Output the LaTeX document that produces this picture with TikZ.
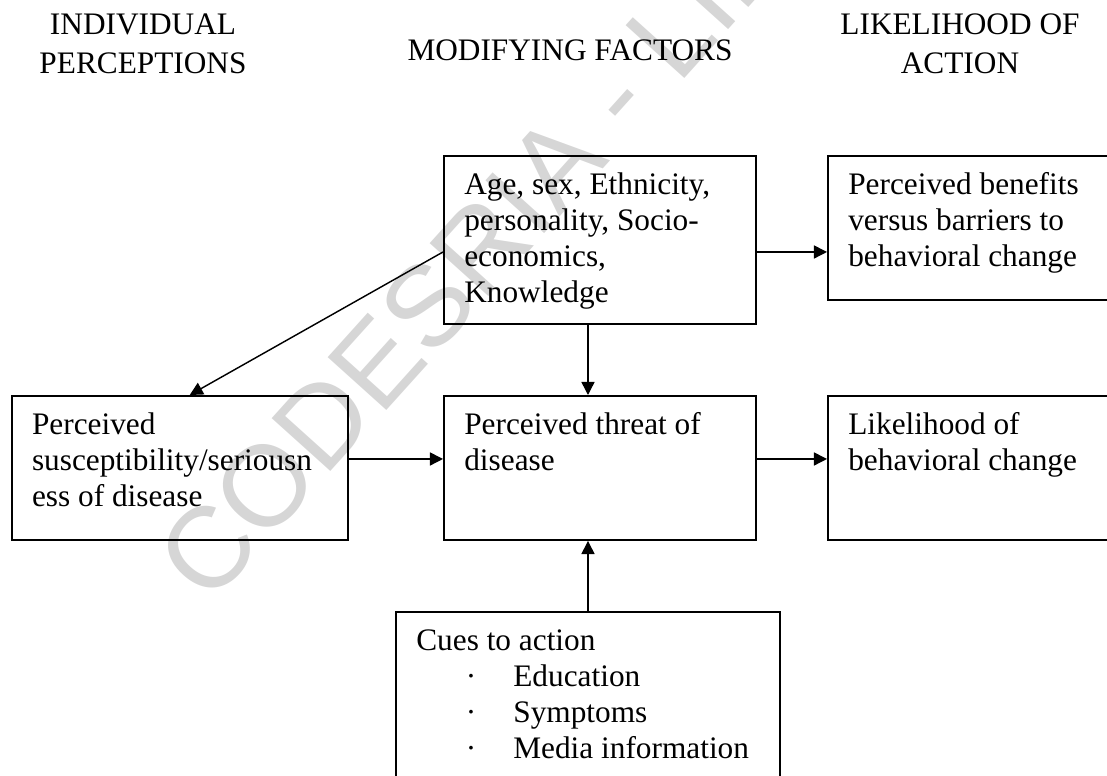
\documentclass[tikz,border=0pt]{standalone}
\usepackage{fontspec}
\setmainfont{Liberation Serif}
\newfontfamily\wmfont{Liberation Sans}
\usetikzlibrary{arrows.meta}

\newcommand{\boxtxt}[3]{\parbox[t][#2][t]{#1}{\raggedright\strut #3}}
\newcommand{\cue}[1]{\makebox[37.2pt][l]{\hspace*{19pt}·}#1}

\begin{document}
\begin{tikzpicture}[
  x=0.3833pt, y=-0.3833pt,
  font=\fontsize{12}{13.8}\selectfont,
  head/.style={align=center,inner sep=0pt,font=\fontsize{12}{15}\selectfont},
  box/.style={draw,line width=0.75pt,anchor=north west,inner xsep=7.8pt,inner ysep=5.2pt},
  flow/.style={-{Triangle[length=5pt,width=5pt]},line width=0.55pt},
  wmark/.style={anchor=base west,rotate=48,inner sep=0pt,text=black!16,
    font=\wmfont\fontsize{44}{44}\selectfont},
]
\useasboundingbox (0,0) rectangle (1107,776);
\clip (0,0) rectangle (1107,776);

% ---------- watermark ----------
\node[wmark] (wm) at (209,607) {CODESRIA - LIBRARY};

% ---------- column heads ----------
\node[head] (hind) at (143,44) {INDIVIDUAL\\PERCEPTIONS};
\node[head] (hmod) at (570,50) {MODIFYING FACTORS};
\node[head] (hact) at (960,44) {LIKELIHOOD OF\\ACTION};

% ---------- boxes ----------
\node[box] (factors) at (443,155)
  {\boxtxt{104pt}{54pt}{Age, sex, Ethnicity,\\personality, Socio-\\economics,\\Knowledge}};
\node[box] (benefits) at (827,155)
  {\boxtxt{107.1pt}{44.8pt}{Perceived benefits\\versus barriers to\\behavioral change}};
\node[box] (sus) at (10.7,395)
  {\boxtxt{113.3pt}{44.8pt}{Perceived\\susceptibility/seriousn\\ess of disease}};
\node[box] (threat) at (443,395)
  {\boxtxt{104pt}{44.8pt}{Perceived threat of\\disease}};
\node[box] (likely) at (827,395)
  {\boxtxt{107.1pt}{44.8pt}{Likelihood of\\behavioral change}};
\node[box] (cues) at (395,611)
  {\boxtxt{131.6pt}{90pt}{Cues to action\\\cue{Education}\\\cue{Symptoms}\\\cue{Media information}}};

% ---------- arrows ----------
\coordinate (fr) at ([yshift=-4.6pt]factors.east);
\coordinate (sr) at ([yshift=3.45pt]sus.east);
\draw[flow] (fr) -- (fr -| benefits.west);
\draw[flow] (fr -| factors.west) -- ([xshift=3.8pt]sus.north);
\draw[flow] (factors.south -| cues.north) -- (threat.north -| cues.north);
\draw[flow] (sr) -- (sr -| threat.west);
\draw[flow] (sr -| threat.east) -- (sr -| likely.west);
\draw[flow] (cues.north) -- (cues.north |- threat.south);

\end{tikzpicture}
\end{document}
